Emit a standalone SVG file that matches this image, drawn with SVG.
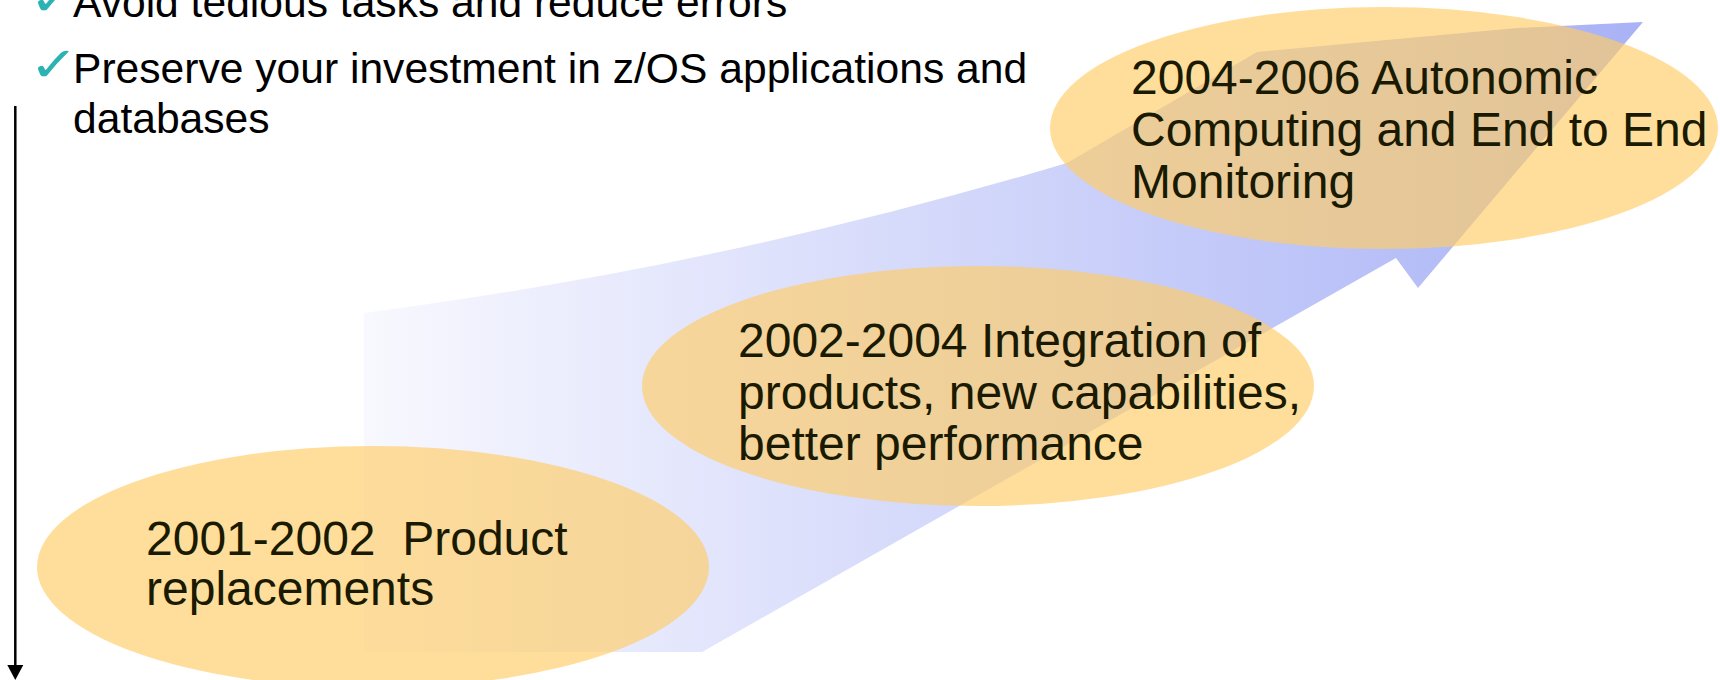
<svg xmlns="http://www.w3.org/2000/svg" width="1720" height="680" viewBox="0 0 1720 680">
  <style>
    .bullet { font-family: "Liberation Sans", Arial, sans-serif; font-size: 42.6px; fill: #000000; }
    .check { font-family: "DejaVu Sans", sans-serif; font-size: 48px; fill: #2BB3B3; }
    .bubble { fill: #FFCC66; fill-opacity: 0.65; }
    .label { font-family: "Liberation Sans", Arial, sans-serif; font-size: 48px; fill: #1A1A00; white-space: pre; }
    .axis { stroke: #000000; stroke-width: 2.5; fill: none; }
  </style>
  <defs>
    <linearGradient id="arrowGrad" gradientUnits="userSpaceOnUse" x1="364" y1="0" x2="1643" y2="0">
      <stop offset="0" stop-color="#F8F8FE"/>
      <stop offset="1" stop-color="#A8B2F6"/>
    </linearGradient>
    <marker id="head" viewBox="0 0 15 16" refX="0" refY="8" markerWidth="15" markerHeight="16" markerUnits="userSpaceOnUse" orient="auto">
      <path d="M0,0 L15,8 L0,16 Z" fill="#000000"/>
    </marker>
  </defs>

  <g id="bullets">
    <text class="check" transform="translate(29,15) scale(1.24,1)">✓</text>
    <text class="bullet" x="73" y="17">Avoid tedious tasks and reduce errors</text>
    <text class="check" transform="translate(29,81) scale(1.24,1)">✓</text>
    <text class="bullet" x="73" y="83">Preserve your investment in z/OS applications and</text>
    <text class="bullet" x="73" y="133">databases</text>
  </g>

  <g id="progress-arrow">
    <path d="M364,313 C598,282.6 833,233 1067,163 L1257,52 L1517,28 L1643,22 L1418,288 L1396,258 L702,652 L364,652 Z" fill="url(#arrowGrad)"/>
  </g>

  <g id="phase-2001-2002">
    <ellipse class="bubble" cx="373" cy="567" rx="336" ry="121"/>
    <text class="label" x="146" y="555">2001-2002  Product</text>
    <text class="label" x="146" y="605">replacements</text>
  </g>

  <g id="phase-2002-2004">
    <ellipse class="bubble" cx="978" cy="386" rx="336" ry="120"/>
    <text class="label" x="738" y="357">2002-2004 Integration of</text>
    <text class="label" x="738" y="409">products, new capabilities,</text>
    <text class="label" x="738" y="460">better performance</text>
  </g>

  <g id="phase-2004-2006">
    <ellipse class="bubble" cx="1384" cy="128" rx="334" ry="121"/>
    <text class="label" x="1131" y="94">2004-2006 Autonomic</text>
    <text class="label" x="1131" y="146">Computing and End to End</text>
    <text class="label" x="1131" y="198">Monitoring</text>
  </g>

  <g id="connectors">
    <line class="axis" x1="15.3" y1="106" x2="15.3" y2="665" marker-end="url(#head)"/>
  </g>
</svg>
